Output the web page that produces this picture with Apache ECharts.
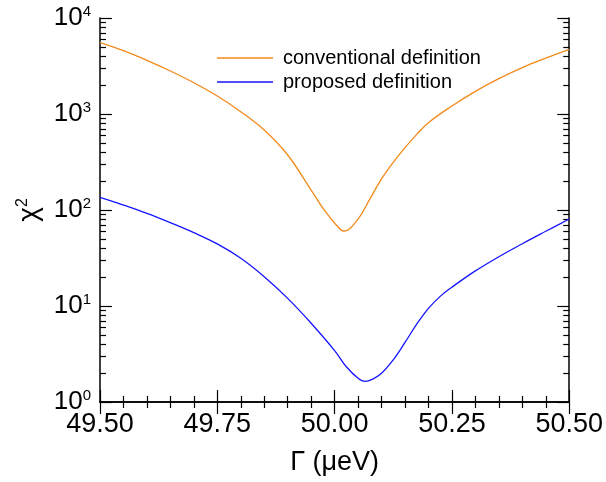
<!DOCTYPE html>
<html>
<head>
<meta charset="utf-8">
<script src="https://cdn.jsdelivr.net/npm/echarts@6/dist/echarts.min.js"></script>
<style>html,body{margin:0;padding:0;background:#fff}#c{width:606px;height:482px}</style>
</head>
<body>
<div id="c"></div>
<script>
// Γ values (μeV) and χ² values
const convX = [49.50, 49.55, 49.60, 49.65, 49.70, 49.75, 49.80, 49.85, 49.90, 49.95, 49.975, 50.00, 50.02, 50.05, 50.075, 50.10, 50.125, 50.15, 50.175, 50.20, 50.25, 50.30, 50.35, 50.40, 50.45, 50.50];
const convY = [5534, 4571, 3622, 2805, 2118, 1540, 1057, 681, 374, 161, 104.7, 73.3, 60.4, 80.5, 130, 211, 314, 446, 614, 813, 1213, 1722, 2333, 3041, 3819, 4721];
const propX = [49.50, 49.55, 49.60, 49.65, 49.70, 49.75, 49.80, 49.85, 49.90, 49.95, 50.00, 50.025, 50.05, 50.065, 50.08, 50.10, 50.125, 50.15, 50.175, 50.20, 50.225, 50.25, 50.30, 50.35, 50.40, 50.45, 50.50];
const propY = [135.5, 112.7, 92.3, 73.8, 58.1, 44.3, 31.4, 20.2, 12.0, 6.61, 3.43, 2.33, 1.77, 1.64, 1.72, 1.99, 2.75, 4.17, 6.46, 9.44, 12.6, 15.7, 23.2, 32.6, 44.5, 60.0, 80.5];
const seriesNames = ['conventional definition', 'proposed definition'];

const FONT = 'Liberation Sans';
const minorLog = [];
for (let d = 0; d < 4; d++) for (let k = 2; k <= 9; k++) minorLog.push(Math.log10(k) + d);

function pairs(xs, ys) { return xs.map((x, i) => [x, ys[i]]); }

const chart = echarts.init(document.getElementById('c'), null, {renderer: 'canvas'});
const axisLineStyle = {color: '#000', width: 1.5};
const option = {
  animation: false,
  backgroundColor: '#fff',
  grid: {left: 100, right: 36, top: 18, bottom: 80, containLabel: false},
  legend: {
    data: seriesNames,
    orient: 'vertical',
    left: 212, top: 43,
    icon: 'rect',
    itemWidth: 56, itemHeight: 1.5, itemGap: 4,
    textStyle: {fontFamily: FONT, fontSize: 20, lineHeight: 20, color: '#000', padding: [0, 0, 0, 5]}
  },
  xAxis: [
    {
      type: 'value', min: 49.5, max: 50.5, interval: 0.25, position: 'bottom',
      name: 'Γ (μeV)', nameLocation: 'middle', nameGap: 47,
      nameTextStyle: {fontFamily: FONT, fontSize: 27, color: '#000'},
      axisLine: {lineStyle: axisLineStyle},
      axisTick: {inside: true, length: 12, lineStyle: {color: '#000', width: 1.2}},
      minorTick: {show: true, splitNumber: 5, length: 6, lineStyle: {color: '#000', width: 1.2}},
      axisLabel: {fontFamily: FONT, fontSize: 27, color: '#000', margin: 9, formatter: v => v.toFixed(2)},
      splitLine: {show: false}
    },
    {
      type: 'value', min: 49.5, max: 50.5, interval: 0.25, position: 'top',
      axisLine: {lineStyle: axisLineStyle},
      axisTick: {inside: true, length: 12, lineStyle: {color: '#000', width: 1.2}},
      minorTick: {show: true, splitNumber: 5, length: 6, lineStyle: {color: '#000', width: 1.2}},
      axisLabel: {show: false}, splitLine: {show: false}
    }
  ],
  yAxis: [
    {
      type: 'log', logBase: 10, min: 1, max: 10000, position: 'left',
      name: '{c|χ}{s|2}', nameLocation: 'middle', nameGap: 56, nameRotate: 90,
      nameTextStyle: {fontFamily: FONT, color: '#000', rich: {
        c: {fontFamily: FONT, fontSize: 28, color: '#000', lineHeight: 28},
        s: {fontFamily: FONT, fontSize: 16, color: '#000', verticalAlign: 'top', lineHeight: 16}
      }},
      axisLine: {lineStyle: axisLineStyle},
      axisTick: {inside: true, length: 12, lineStyle: {color: '#000', width: 1.2}},
      axisLabel: {
        margin: 9, color: '#000',
        formatter: v => '{b|10}{s|' + Math.round(Math.log10(v)) + '}',
        rich: {
          b: {fontFamily: FONT, fontSize: 26, color: '#000', lineHeight: 28},
          s: {fontFamily: FONT, fontSize: 15, color: '#000', verticalAlign: 'top', lineHeight: 15}
        }
      },
      splitLine: {show: false}
    },
    {
      type: 'value', min: 0, max: 4, position: 'left',
      axisLine: {show: false},
      axisTick: {inside: true, length: 6, customValues: minorLog, lineStyle: {color: '#000', width: 1.2}},
      axisLabel: {show: false}, splitLine: {show: false}
    },
    {
      type: 'log', logBase: 10, min: 1, max: 10000, position: 'right',
      axisLine: {lineStyle: axisLineStyle},
      axisTick: {inside: true, length: 12, lineStyle: {color: '#000', width: 1.2}},
      axisLabel: {show: false}, splitLine: {show: false}
    },
    {
      type: 'value', min: 0, max: 4, position: 'right',
      axisLine: {show: false},
      axisTick: {inside: true, length: 6, customValues: minorLog, lineStyle: {color: '#000', width: 1.2}},
      axisLabel: {show: false}, splitLine: {show: false}
    }
  ],
  series: [
    {name: seriesNames[0], type: 'line', xAxisIndex: 0, yAxisIndex: 0, data: pairs(convX, convY),
     symbol: 'none', smooth: 0.4, lineStyle: {color: '#f28a1a', width: 1.3}, itemStyle: {color: '#f28a1a'}},
    {name: seriesNames[1], type: 'line', xAxisIndex: 0, yAxisIndex: 0, data: pairs(propX, propY),
     symbol: 'none', smooth: 0.4, lineStyle: {color: '#1414ff', width: 1.3}, itemStyle: {color: '#1414ff'}}
  ]
};
chart.setOption(option);
</script>
</body>
</html>
